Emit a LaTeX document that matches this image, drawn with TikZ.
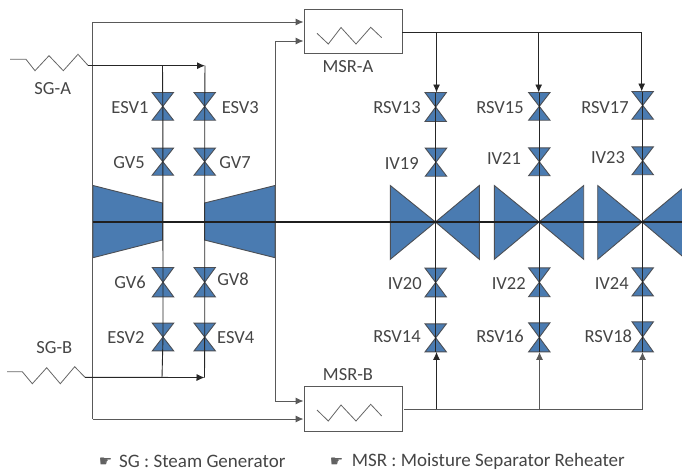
\documentclass[tikz,border=0pt]{standalone}
\usepackage{fontspec}
\setmainfont{Carlito}
\newfontfamily\handfont{DejaVu Sans}
\usetikzlibrary{arrows.meta}
\definecolor{vblue}{HTML}{4A7BB1}
\definecolor{vedge}{HTML}{4C4F55}
\definecolor{txt}{HTML}{454545}
\tikzset{
  x=1pt,y=-1pt,
  lbl/.style={inner sep=0pt,text=txt,font=\fontsize{18.5}{19}\selectfont},
  foot/.style={inner sep=0pt,text=txt,anchor=west,font=\fontsize{19}{20}\selectfont},
  hand/.style={inner sep=0pt,text=txt!85,font=\handfont\fontsize{15}{15}\selectfont},
  pipe/.style={draw=black!85,line width=0.9pt},
  gpipe/.style={draw=black!65,line width=1pt},
  arr/.style={-{Latex[length=8pt,width=7pt]}},
  zig/.style={draw=black!60,line width=0.8pt,line join=miter},
  blade/.style={fill=vblue,draw=vedge,line width=0.9pt,line join=miter},
  vbox/.style={draw=none,inner sep=0pt,minimum width=21pt},
  msr/.style={draw=black!65,line width=0.9pt,fill=white,inner sep=0pt,minimum width=98pt},
}
\newcommand{\valve}[4]{% name, x, ytop, ybottom
  \pgfmathsetmacro{\vh}{#4-#3}
  \pgfmathsetmacro{\vc}{(#3+#4)/2}
  \node[vbox,minimum height=\vh pt] (#1) at (#2,\vc) {};
  \draw[blade] (#1.north west) -- (#1.north east) -- (#1.south west) -- (#1.south east) -- cycle;
}
\begin{document}
\begin{tikzpicture}
\useasboundingbox (0,0) rectangle (682,475);
% turbines
\draw[blade] (93,185.5) -- (162.5,203) -- (162.5,240) -- (93,257.7) -- cycle;
\draw[blade] (204.5,203) -- (275,185.5) -- (275,257.7) -- (204.5,240) -- cycle;
% big intercept valves
\coordinate (b1) at (435.5,222);
\coordinate (b2) at (539,222);
\coordinate (b3) at (642,222);
\draw[blade] (390.3,185.5) -- (390.3,259.3) -- (b1) -- cycle;
\draw[blade] (479.3,185.5) -- (479.3,259.3) -- (b1) -- cycle;
\draw[blade] (494.3,185.5) -- (494.3,259.3) -- (b2) -- cycle;
\draw[blade] (583.7,185.5) -- (583.7,259.3) -- (b2) -- cycle;
\draw[blade] (597.7,185.5) -- (597.7,259.3) -- (b3) -- cycle;
\draw[blade] (686,185.5) -- (686,259.3) -- (b3) -- cycle;
% MSR boxes
\node[msr,minimum height=43.5pt] (msra) at (353,31.2) {};
\node[msr,minimum height=45pt] (msrb) at (353,409.2) {};
\draw[zig] (317,33.3) -- (328.3,44) -- (341,27.5) -- (356,44) -- (370.7,27.3) -- (381.7,37.7);
\draw[zig] (317,410) -- (328.3,421) -- (341,405) -- (356,421) -- (370.7,404.3) -- (381.7,416);
% named junctions
\coordinate (shaftL) at (93,222);
\coordinate (shaftR) at (682,222);
\coordinate (ta) at (92.5,22);
\coordinate (tb) at (92.5,419);
\coordinate (ra) at (275,41);
\coordinate (rb) at (275,401);
\coordinate (sa) at (88.3,65.7);
\coordinate (sb) at (85,377.3);
\coordinate (ja1) at (162.5,65.7);
\coordinate (ja2) at (205,65.7);
\coordinate (jb1) at (162,377.5);
\coordinate (jb2) at (204.5,377.5);
\coordinate (ha0) at (msra.east |- 0,32.3);
\coordinate (ha1) at (436.5,32.3);
\coordinate (ha2) at (538.7,32.3);
\coordinate (ha3) at (641.7,32.3);
\coordinate (hb0) at (404,409.3);
\coordinate (hb1) at (436.5,409.3);
\coordinate (hb2) at (539.5,409.3);
\coordinate (hb3) at (642.5,409.3);
% valves
\valve{esv1}{162.8}{92.7}{120}
\valve{esv3}{204.7}{92.7}{120}
\valve{gv5}{162.8}{148.3}{175}
\valve{gv7}{204.7}{148.3}{175}
\valve{gv6}{163}{267.7}{296.7}
\valve{gv8}{204.7}{267.7}{296.7}
\valve{esv2}{163}{323.3}{350.7}
\valve{esv4}{204.7}{323.3}{350.7}
\valve{rsv13}{435.7}{92.7}{121.3}
\valve{iv19}{436}{148.3}{176}
\valve{rsv15}{539.3}{92.7}{120}
\valve{iv21}{539.3}{148}{175.5}
\valve{rsv17}{642.7}{91.7}{119}
\valve{iv23}{642.7}{147}{174.5}
\valve{iv20}{435.7}{268.3}{296.7}
\valve{rsv14}{435.7}{324}{351.7}
\valve{iv22}{539.3}{268}{296.5}
\valve{rsv16}{539.3}{323}{351.7}
\valve{iv24}{642.7}{268}{295.7}
\valve{rsv18}{642.7}{322}{351.7}
% steam generators
\draw[zig] (10,59.3) -- (26,59.3) -- (35,70.7) -- (49,55.7) -- (63.3,70.7) -- (78,54.3) -- (sa);
\draw[zig] (7,371.7) -- (22.3,371.7) -- (32.3,383.7) -- (46.7,367.7) -- (60.3,383.7) -- (74.7,366.7) -- (sb);
% piping
\draw[gpipe,arr] (tb) -- (ta) -- (ta -| msra.west);
\draw[gpipe,arr] (tb) -- (tb -| msrb.west);
\draw[gpipe,arr] (rb) -- (ra) -- (ra -| msra.west);
\draw[gpipe,arr] (rb) -- (rb -| msrb.west);
\draw[pipe,arr] (sa) -- (ja2);
\draw[pipe,arr] (sb) -- (jb2);
\draw[pipe] (ja1) -- (esv1.center) -- (gv5.center) -- (gv6.center) -- (esv2.center) -- (jb1);
\draw[pipe] (ja2) -- (esv3.center) -- (gv7.center) -- (gv8.center) -- (esv4.center) -- (jb2);
\draw[pipe] (ha0) -- (ha3);
\draw[pipe,arr] (ha1) -- (ha1 |- rsv13.north);
\draw[pipe,arr] (ha2) -- (ha2 |- rsv15.north);
\draw[pipe,arr] (ha3) -- (ha3 |- rsv17.north);
\draw[pipe] (rsv13.north) -- (iv19.center -| rsv13.north) -- (iv20.south) -- (rsv14.south);
\draw[pipe] (rsv15.north) -- (rsv16.south);
\draw[pipe] (rsv17.north) -- (rsv18.south);
\draw[gpipe] (hb0) -- (hb3);
\draw[pipe,arr] (hb1) -- (hb1 |- rsv14.south);
\draw[gpipe,arr] (hb2) -- (hb2 |- rsv16.south);
\draw[gpipe,arr] (hb3) -- (hb3 |- rsv18.south);
% shaft
\draw[draw=black!88,line width=1.5pt] (shaftL) -- (shaftR);
% labels
\node[lbl] (lsga) at (52.7,88.5) {SG-A};
\node[lbl] (lsgb) at (54.3,347.7) {SG-B};
\node[lbl] (lma) at (348,66.7) {MSR-A};
\node[lbl] (lmb) at (348,375) {MSR-B};
\node[lbl] (l1) at (130,107.5) {ESV1};
\node[lbl] (l3) at (240.3,107.5) {ESV3};
\node[lbl] (l5) at (129,162.5) {GV5};
\node[lbl] (l7) at (235,162.5) {GV7};
\node[lbl] (l6) at (130,282.3) {GV6};
\node[lbl] (l8) at (233,279) {GV8};
\node[lbl] (l2) at (126,337.7) {ESV2};
\node[lbl] (l4) at (235.7,337.7) {ESV4};
\node[lbl] (l13) at (397,108) {RSV13};
\node[lbl] (l15) at (500,108) {RSV15};
\node[lbl] (l17) at (605,108) {RSV17};
\node[lbl] (l19) at (401.7,163.5) {IV19};
\node[lbl] (l21) at (504,158) {IV21};
\node[lbl] (l23) at (608,158) {IV23};
\node[lbl] (l20) at (404.7,283.3) {IV20};
\node[lbl] (l22) at (508.7,283.3) {IV22};
\node[lbl] (l24) at (611.7,283.3) {IV24};
\node[lbl] (l14) at (397,336.7) {RSV14};
\node[lbl] (l16) at (500,336.7) {RSV16};
\node[lbl] (l18) at (608.3,336.7) {RSV18};
\node[hand] (h1) at (105.5,462) {☛};
\node[foot] (f1) at (119,461.7) {SG : Steam Generator};
\node[hand] (h2) at (336.5,462) {☛};
\node[foot] (f2) at (351.7,461.7) {MSR : Moisture Separator Reheater};
\end{tikzpicture}
\end{document}
